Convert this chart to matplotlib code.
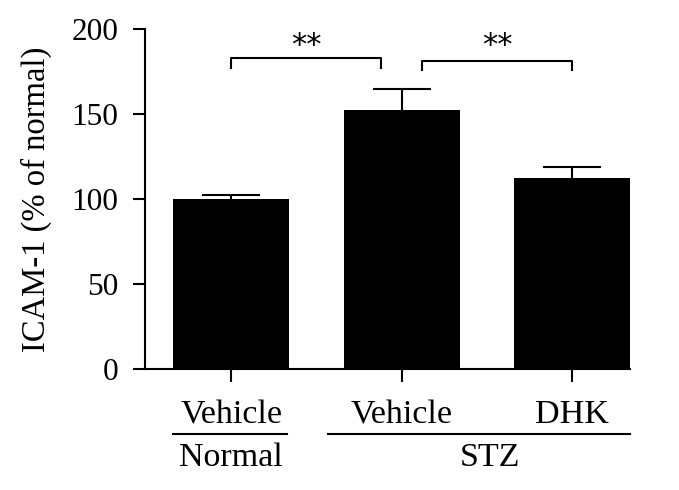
import matplotlib.pyplot as plt
from matplotlib.transforms import blended_transform_factory

# Data
conditions = ['Vehicle', 'Vehicle', 'DHK']
groups = ['Normal', 'STZ']
means = [100, 152.5, 112.5]
sems = [2.5, 12.3, 6.5]
# significance brackets: (x left, x right, top, foot)
brackets = [(0, 0.88, 183, 177), (1.12, 2, 181, 176)]

plt.rcParams['font.family'] = ['Liberation Serif', 'DejaVu Serif']

fig = plt.figure(figsize=(6.79, 4.9), dpi=100)
ax = fig.add_axes([145 / 679, (490 - 369) / 490, 485 / 679, 340 / 490])

x = list(range(len(means)))
ax.bar(x, means, width=0.68, color='black', zorder=2)

# upward-only error bars
tops = [m + s for m, s in zip(means, sems)]
ax.vlines(x, means, tops, color='black', lw=1.5, zorder=1)
ax.hlines(tops, [xi - 0.17 for xi in x], [xi + 0.17 for xi in x], color='black', lw=1.5)

# Brackets and stars
for x0, x1, ytop, ybot in brackets:
    ax.plot([x0, x0, x1, x1], [ybot, ytop, ytop, ybot], color='black', lw=1.5,
            clip_on=False)
    ax.text((x0 + x1) / 2, 199, '**', ha='center', va='top', fontsize=22,
            family='DejaVu Sans')

ax.set_xlim(-0.506, 2.34)
ax.set_ylim(0, 200)
ax.set_yticks([0, 50, 100, 150, 200])
ax.set_xticks(x)
ax.set_xticklabels([])
ax.spines['top'].set_visible(False)
ax.spines['right'].set_visible(False)
for s in ['left', 'bottom']:
    ax.spines[s].set_linewidth(1.5)
ax.tick_params(axis='both', length=9, width=1.5, labelsize=22.5, direction='out')
ax.tick_params(axis='y', pad=10)
ax.set_ylabel('ICAM-1 (% of normal)', fontsize=23.5)
ax.yaxis.set_label_coords(-0.192, 0.5)

# Group labels below axis
trans = blended_transform_factory(ax.transData, ax.transAxes)
for xi, lab in zip(x, conditions):
    ax.text(xi, -0.135, lab, ha='center', va='center', fontsize=24.5, transform=trans)
ax.plot([-0.34, 0.33], [-0.191, -0.191], color='black', lw=1.5, transform=trans, clip_on=False)
ax.plot([0.57, 2.34], [-0.191, -0.191], color='black', lw=1.5, transform=trans, clip_on=False)
ax.text(0, -0.262, groups[0], ha='center', va='center', fontsize=24.5, transform=trans)
ax.text(1.52, -0.262, groups[1], ha='center', va='center', fontsize=24.5, transform=trans)

fig.savefig('out.png', dpi=100)
